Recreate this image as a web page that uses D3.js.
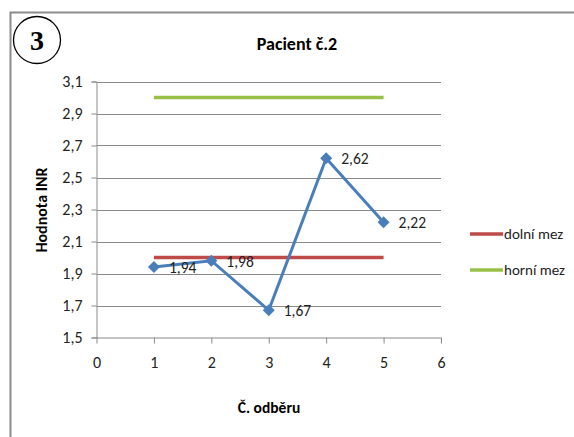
<!DOCTYPE html>
<html>
<head>
<meta charset="utf-8">
<script src="https://cdn.jsdelivr.net/npm/d3@7"></script>
<style>
  body { margin: 0; background: #fff; }
  text { font-family: Carlito, "Liberation Sans Narrow", "Open Sans", sans-serif; }
</style>
</head>
<body>
<svg id="chart" width="574" height="437"></svg>
<script>
// data
var odber = [1, 2, 3, 4, 5];
var hodnoty = [1.94, 1.98, 1.67, 2.62, 2.22];
var dolniMez = [2, 2, 2, 2, 2];
var horniMez = [3, 3, 3, 3, 3];
var xTicks = [0, 1, 2, 3, 4, 5, 6];
var yTicks = [1.5, 1.7, 1.9, 2.1, 2.3, 2.5, 2.7, 2.9, 3.1];

var svg = d3.select("#chart");

var x = d3.scaleLinear().domain([0, 6]).range([96.5, 441]);
var y = d3.scaleLinear().domain([1.5, 3.1]).range([337.5, 81.5]);
var fmt = function(v) { return d3.format(".2~f")(v).replace(".", ","); };

// frame (only top + left visible)
svg.append("path")
  .attr("d", "M10.5,437 L10.5,12.5 L574,12.5")
  .attr("fill", "none").attr("stroke", "#8c8c8c").attr("stroke-width", 2);

// circled number
svg.append("circle").attr("cx", 37).attr("cy", 40).attr("r", 23.5)
  .attr("fill", "none").attr("stroke", "#000").attr("stroke-width", 1.3);
svg.append("text").attr("x", 37).attr("y", 50).attr("text-anchor", "middle")
  .style("font-family", "'Liberation Serif', serif").style("font-weight", "bold")
  .style("font-size", "28px").text("3");

// title
svg.append("text").attr("x", 297).attr("y", 50).attr("text-anchor", "middle")
  .style("font-weight", "bold").style("font-size", "18px").text("Pacient č.2");

// gridlines
svg.append("g").selectAll("line").data(yTicks.slice(1)).enter().append("line")
  .attr("x1", x(0)).attr("x2", x(6))
  .attr("y1", function(d) { return Math.round(y(d)) + 0.5; })
  .attr("y2", function(d) { return Math.round(y(d)) + 0.5; })
  .attr("stroke", "#8a8a8a").attr("stroke-width", 1);

// axes
var yAxis = d3.axisLeft(y).tickValues(yTicks).tickFormat(fmt).tickSize(5).tickPadding(9);
var gy = svg.append("g").attr("transform", "translate(" + x(0) + ",0)").call(yAxis);
var xAxis = d3.axisBottom(x).tickValues(xTicks).tickFormat(d3.format("d")).tickSize(6).tickPadding(13);
var gx = svg.append("g").attr("transform", "translate(0," + y(1.5) + ")").call(xAxis);
[gx, gy].forEach(function(g) {
  g.select(".domain").attr("stroke", "#8a8a8a");
  g.selectAll(".tick line").attr("stroke", "#8a8a8a");
  g.selectAll("text").style("font-size", "16px").attr("fill", "#222")
    .style("font-family", "Carlito, 'Liberation Sans Narrow', 'Open Sans', sans-serif");
});
gx.select(".domain").attr("d", "M" + x(0) + ",0.5H" + x(6));

// axis titles
svg.append("text").attr("transform", "translate(47,210) rotate(-90)")
  .attr("text-anchor", "middle").style("font-weight", "bold").style("font-size", "16px")
  .text("Hodnota INR");
svg.append("text").attr("x", 269).attr("y", 413).attr("text-anchor", "middle")
  .style("font-weight", "bold").style("font-size", "15.5px").text("Č. odběru");

var line = d3.line().x(function(d) { return x(d[0]); }).y(function(d) { return y(d[1]); });

svg.append("path").datum(d3.zip(odber, horniMez)).attr("d", line)
  .attr("fill", "none").attr("stroke", "#98c047").attr("stroke-width", 3.5);
svg.append("path").datum(d3.zip(odber, dolniMez)).attr("d", line)
  .attr("fill", "none").attr("stroke", "#be4b48").attr("stroke-width", 3.5);

// patient series
var pts = d3.zip(odber, hodnoty);
svg.append("path").datum(pts).attr("d", line)
  .attr("fill", "none").attr("stroke", "#4a7ebb").attr("stroke-width", 3);
svg.append("g").selectAll("path").data(pts).enter().append("path")
  .attr("d", d3.symbol().type(d3.symbolSquare).size(72))
  .attr("transform", function(d) { return "translate(" + x(d[0]) + "," + y(d[1]) + ") rotate(45)"; })
  .attr("fill", "#4a7ebb");
svg.append("g").selectAll("text").data(pts).enter().append("text")
  .attr("x", function(d) { return x(d[0]) + 15; })
  .attr("y", function(d) { return y(d[1]) + 6; })
  .style("font-size", "15.5px").attr("fill", "#222")
  .text(function(d) { return fmt(d[1]); });

// legend
var legend = [["dolní mez", "#be4b48"], ["horní mez", "#98c047"]];
var lg = svg.append("g").selectAll("g").data(legend).enter().append("g")
  .attr("transform", function(d, i) { return "translate(470," + (234 + i * 36) + ")"; });
lg.append("line").attr("x1", 0).attr("x2", 33).attr("stroke", function(d) { return d[1]; })
  .attr("stroke-width", 3.5);
lg.append("text").attr("x", 34).attr("y", 5).style("font-size", "15px").attr("fill", "#222")
  .text(function(d) { return d[0]; });
</script>
</body>
</html>
